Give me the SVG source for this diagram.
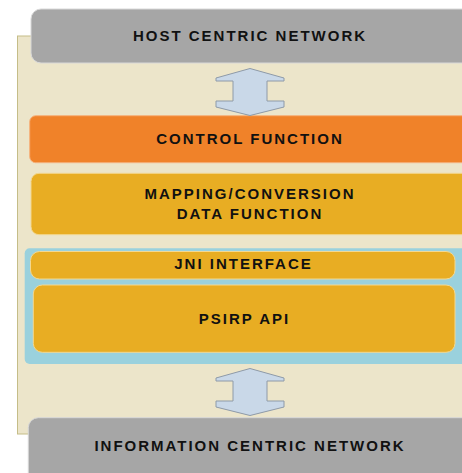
<svg xmlns="http://www.w3.org/2000/svg" width="462" height="473" viewBox="0 0 462 473">
<defs>
<style>
.lbl{font-family:"Liberation Sans",Arial,sans-serif;font-weight:bold;font-size:15px;letter-spacing:2px;fill:#111;text-anchor:middle}
.gray{fill:#A6A6A6;stroke:#D8D8D8;stroke-width:1}
.gold{fill:#E8AD23;stroke:#F3D890;stroke-width:1}
.arrow{fill:#C9D8E8;stroke:#8E9AA8;stroke-width:1}
</style>
<path id="dblarrow" class="arrow" d="M250,68.5 L284,78 L284,81 L267,81 L267,101 L284,101 L284,107 L250,115.5 L216,107 L216,101 L233,101 L233,81 L216,81 L216,78 Z"/>
</defs>
<rect x="17.5" y="36" width="460" height="398" fill="#ECE5CA" stroke="#C5BD88" stroke-width="1"/>
<g id="host">
<rect class="gray" x="31" y="9" width="450" height="54" rx="10"/>
<text class="lbl" x="250" y="40.7">HOST CENTRIC NETWORK</text>
</g>
<g id="control">
<rect x="29.7" y="115.7" width="450" height="47" rx="6" fill="#F08229" stroke="#F6B07A" stroke-width="1"/>
<text class="lbl" x="250" y="144">CONTROL FUNCTION</text>
</g>
<g id="mapping">
<rect class="gold" x="31" y="173.3" width="450" height="61.4" rx="8"/>
<text class="lbl" x="250" y="199.3">MAPPING/CONVERSION</text>
<text class="lbl" x="250" y="219.3">DATA FUNCTION</text>
</g>
<g id="psirp-layer">
<rect x="24.7" y="248.3" width="450" height="115.7" rx="5" fill="#9AD1DD"/>
</g>
<g id="jni">
<rect class="gold" x="30.5" y="251.5" width="424.5" height="27.5" rx="9"/>
<text class="lbl" x="243.5" y="269.3">JNI INTERFACE</text>
</g>
<g id="psirp">
<rect class="gold" x="33.3" y="285" width="421.7" height="67.3" rx="9"/>
<text class="lbl" x="244.5" y="323.7">PSIRP API</text>
</g>
<g id="icn">
<rect class="gray" x="28.3" y="417.7" width="450" height="70" rx="10"/>
<text class="lbl" x="250" y="450.7">INFORMATION CENTRIC NETWORK</text>
</g>
<g id="connectors">
<use href="#dblarrow"/>
<use href="#dblarrow" y="300"/>
</g>
</svg>
